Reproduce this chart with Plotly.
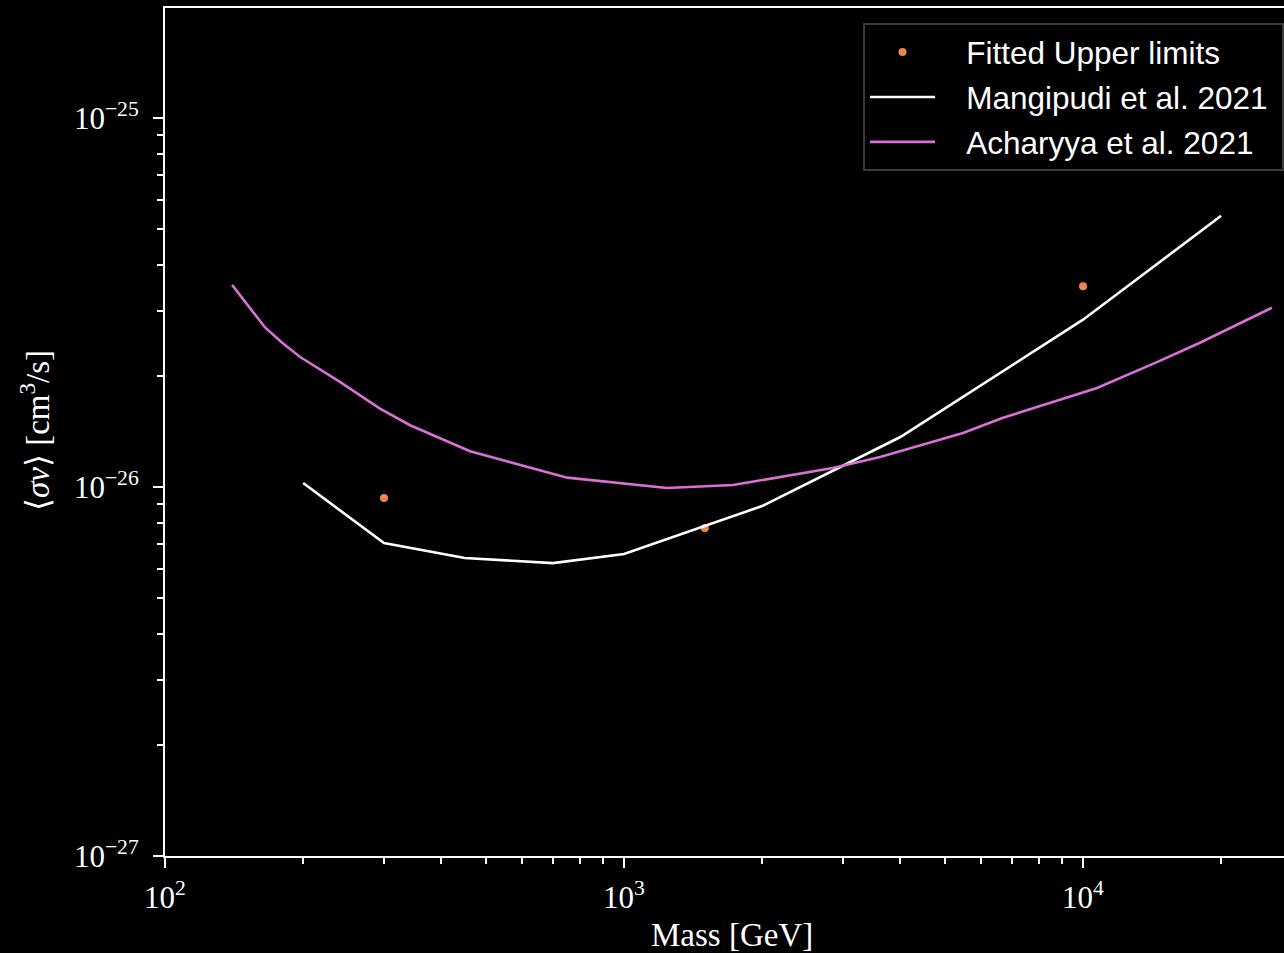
import numpy as np
import plotly.graph_objects as go

# Fitted upper limits on the annihilation cross-section
fit_mass = [300, 1500, 10000]
fit_sigmav = [9.34e-27, 7.74e-27, 3.50e-26]

# Mangipudi et al. 2021
mang_mass = [200, 300, 450, 700, 1000, 2000, 4000, 10000, 20000]
mang_sigmav = [1.025e-26, 7.05e-27, 6.42e-27, 6.22e-27, 6.58e-27,
               8.88e-27, 1.366e-26, 2.84e-26, 5.43e-26]

# Acharyya et al. 2021
ach_mass = [140, 165, 180, 197, 240, 294, 342, 462, 752, 1241, 1728, 2010,
            2851, 3614, 5478, 6695, 10730, 14490, 17980, 25800]
ach_sigmav = [3.53e-26, 2.71e-26, 2.46e-26, 2.25e-26, 1.93e-26, 1.63e-26,
              1.47e-26, 1.25e-26, 1.06e-26, 9.94e-27, 1.012e-26, 1.045e-26,
              1.126e-26, 1.206e-26, 1.40e-26, 1.54e-26, 1.855e-26, 2.18e-26,
              2.46e-26, 3.06e-26]

x_ticks = [1e2, 1e3, 1e4]
x_ticktext = ["10<sup>2</sup>", "10<sup>3</sup>", "10<sup>4</sup>"]
y_ticks = [1e-27, 1e-26, 1e-25]
y_ticktext = ["10<sup>−27</sup>", "10<sup>−26</sup>", "10<sup>−25</sup>"]

x_minor = [k * 10.0 ** n for n in (2, 3, 4) for k in range(2, 10)]
y_minor = [k * 10.0 ** n for n in (-27, -26, -25) for k in range(2, 10)]

SERIF = "Liberation Serif"
SANS = "Liberation Sans"
PAD = "\u00a0\u00a0\u00a0"

fig = go.Figure()
fig.add_trace(go.Scatter(
    x=fit_mass, y=fit_sigmav, mode="markers", name=PAD + "Fitted Upper limits",
    marker=dict(color="#eb8846", size=8), legendgroup="a"))
fig.add_trace(go.Scatter(
    x=mang_mass, y=mang_sigmav, mode="lines",
    name=PAD + "Mangipudi et al. 2021\u00a0",
    line=dict(color="white", width=2.6), legendgroup="b"))
fig.add_trace(go.Scatter(
    x=ach_mass, y=ach_sigmav, mode="lines", name=PAD + "Acharyya et al. 2021",
    line=dict(color="orchid", width=2.6), legendgroup="c"))

axis_common = dict(
    showgrid=False, zeroline=False, showline=True, linecolor="white",
    linewidth=2, ticks="outside", tickcolor="white", ticklen=10, tickwidth=2,
    tickfont=dict(family=SERIF, size=31, color="white"),
)

fig.update_xaxes(
    type="log", range=[2, 2 + 1119 / 459], tickvals=x_ticks,
    ticktext=x_ticktext, mirror=True, ticklabelstandoff=3,
    minor=dict(tickvals=x_minor, ticks="outside", ticklen=6,
               tickcolor="white", tickwidth=1.5),
    **axis_common)
fig.update_yaxes(
    type="log", range=[-27, -24.702], tickvals=y_ticks,
    ticktext=y_ticktext, mirror=False, ticklabelstandoff=8,
    minor=dict(tickvals=y_minor, ticks="outside", ticklen=6,
               tickcolor="white", tickwidth=1.5),
    **axis_common)

fig.add_annotation(
    text="Mass [GeV]", xref="paper", yref="paper", x=0.5067, y=-0.0932,
    xanchor="center", yanchor="middle", showarrow=False,
    font=dict(family=SERIF, size=33, color="white"))
fig.add_annotation(
    text="⟨<i>σv</i>⟩ [cm<sup>3</sup>/s]", xref="paper", yref="paper",
    x=-0.1162, y=0.5024, xanchor="center", yanchor="middle",
    textangle=-90, showarrow=False,
    font=dict(family=SERIF, size=33, color="white"))

fig.update_layout(
    width=1284, height=953,
    margin=dict(l=165, r=0, t=8, b=97),
    paper_bgcolor="black", plot_bgcolor="black",
    showlegend=True,
    legend=dict(
        x=1.0, y=(856 - 23) / 848, xanchor="right", yanchor="top",
        bgcolor="black", bordercolor="#3a3a3a", borderwidth=2,
        font=dict(family=SANS, size=31.5, color="white"),
        itemwidth=65, tracegroupgap=1, traceorder="grouped",
    ),
)

fig.write_html("out.html")
